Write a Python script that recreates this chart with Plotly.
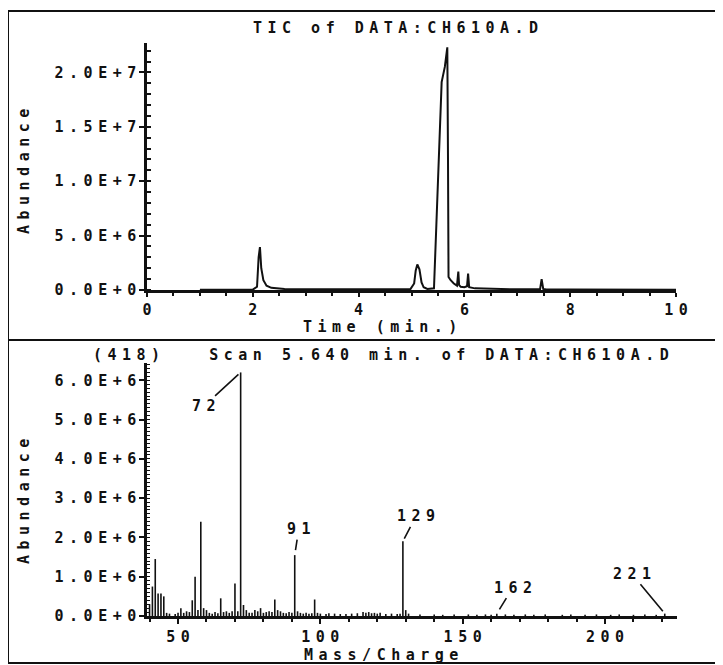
import plotly.graph_objects as go

# ---------------- data ----------------
tic_time = [1.0, 1.5, 2.0, 2.08, 2.11, 2.135, 2.16, 2.2, 2.26, 2.35, 2.6, 3.0, 3.5, 4.0, 4.5,
            4.98, 5.05, 5.08, 5.11, 5.15, 5.19, 5.23, 5.3, 5.425, 5.47, 5.52, 5.57, 5.63, 5.677,
            5.69, 5.70, 5.74, 5.8, 5.86, 5.885, 5.9, 5.93, 6.0, 6.05, 6.07, 6.09, 6.2, 6.6, 7.0,
            7.43, 7.46, 7.49, 7.55, 8.0, 8.5, 9.0, 9.5, 10.0]
tic_abund = [0.02e6, 0.03e6, 0.04e6, 0.3e6, 3.0e6, 3.95e6, 2.0e6, 0.9e6, 0.4e6, 0.2e6, 0.1e6,
             0.06e6, 0.05e6, 0.05e6, 0.06e6,
             0.08e6, 0.6e6, 1.8e6, 2.35e6, 1.9e6, 0.7e6, 0.25e6, 0.1e6, 0.15e6, 6.0e6, 12.5e6,
             19.1e6, 20.5e6, 22.3e6,
             12.0e6, 1.2e6, 0.9e6, 0.6e6, 0.4e6, 1.7e6, 0.45e6, 0.3e6, 0.25e6, 0.35e6, 1.5e6,
             0.25e6, 0.15e6, 0.08e6, 0.06e6,
             0.06e6, 1.0e6, 0.1e6, 0.05e6, 0.05e6, 0.04e6, 0.04e6, 0.03e6, 0.03e6]

ms_mz = [40, 41, 42, 43, 44, 45, 46, 47, 49, 50, 51, 52, 53, 54, 55, 56, 57, 58, 59, 60,
         61, 62, 63, 64, 65, 66, 67, 68, 69, 70, 71, 72, 73, 74, 75, 76, 77, 78, 79, 80,
         81, 82, 83, 84, 85, 86, 87, 88, 89, 90, 91, 92, 93, 94, 95, 96, 97, 98, 99, 100,
         102, 103, 105, 107, 109, 111, 113, 115, 116, 117, 118, 119, 120, 121, 123, 125, 127,
         128, 129, 130, 131, 135, 140, 143, 147, 152, 155, 158, 160, 162, 165, 168, 172, 175,
         179, 185, 188, 193, 197, 202, 205, 210, 214, 218, 221]
ms_abund = [0.3e6, 0.75e6, 1.45e6, 0.57e6, 0.57e6, 0.5e6, 0.08e6, 0.06e6, 0.05e6, 0.08e6,
            0.2e6, 0.08e6, 0.12e6, 0.1e6, 0.4e6, 1.0e6, 0.15e6, 2.4e6, 0.2e6, 0.15e6,
            0.08e6, 0.06e6, 0.1e6, 0.07e6, 0.45e6, 0.1e6, 0.12e6, 0.08e6, 0.12e6, 0.83e6,
            0.12e6, 6.2e6, 0.28e6, 0.15e6, 0.08e6, 0.08e6, 0.15e6, 0.12e6, 0.2e6, 0.08e6,
            0.1e6, 0.12e6, 0.1e6, 0.42e6, 0.15e6, 0.12e6, 0.08e6, 0.07e6, 0.1e6, 0.08e6,
            1.55e6, 0.12e6, 0.08e6, 0.06e6, 0.08e6, 0.06e6, 0.07e6, 0.42e6, 0.08e6, 0.06e6,
            0.05e6, 0.07e6, 0.06e6, 0.05e6, 0.05e6, 0.06e6, 0.07e6, 0.1e6, 0.08e6, 0.1e6,
            0.07e6, 0.08e6, 0.06e6, 0.08e6, 0.05e6, 0.06e6, 0.05e6,
            0.06e6, 1.9e6, 0.15e6, 0.06e6, 0.04e6, 0.04e6, 0.03e6, 0.04e6, 0.04e6, 0.03e6,
            0.04e6, 0.03e6, 0.06e6, 0.04e6, 0.03e6, 0.04e6, 0.03e6,
            0.04e6, 0.03e6, 0.04e6, 0.03e6, 0.04e6, 0.03e6, 0.04e6, 0.03e6, 0.04e6, 0.03e6, 0.06e6]

label_mz = [72, 91, 129, 162, 221]

tic_xticks = [0, 2, 4, 6, 8, 10]
tic_yticks = [0, 5e6, 1e7, 1.5e7, 2e7]
tic_ytext = ["0.0E+0", "5.0E+6", "1.0E+7", "1.5E+7", "2.0E+7"]
ms_xticks = [50, 100, 150, 200]
ms_yticks = [0, 1e6, 2e6, 3e6, 4e6, 5e6, 6e6]
ms_ytext = ["0.0E+0", "1.0E+6", "2.0E+6", "3.0E+6", "4.0E+6", "5.0E+6", "6.0E+6"]

title_top = "TIC of DATA:CH610A.D"
title_bot = "(418)\u00a0\u00a0\u00a0Scan 5.640 min. of DATA:CH610A.D"

# ---------------- style ----------------
OFF = 8                      # page body margin
W, H = 723 - OFF, 665 - OFF
FONT = "DejaVu Sans Mono"
FS = 15
LS = 5.5  # letter spacing px
INK = "#111111"


def sp(t):
    t = str(t)
    if len(t) < 2:
        return f"<b>{t}</b>"
    return f'<b><span style="letter-spacing:{LS}px">{t[:-1]}</span>{t[-1]}</b>'


def px_x(p):
    return (p - OFF) / W


def px_y(p):
    return 1 - (p - OFF) / H


label_offsets = {72: (-37, 34, 3), 91: (4, -26, 5), 129: (13, -25, 3), 162: (16, -26, 5), 221: (-33, -40, 3)}

fig = go.Figure()

fig.add_trace(go.Scatter(x=tic_time, y=tic_abund, mode="lines",
                         line=dict(color=INK, width=2), xaxis="x", yaxis="y",
                         showlegend=False, hoverinfo="skip"))

sx, sy = [], []
for m, a in zip(ms_mz, ms_abund):
    sx += [m, m, None]
    sy += [0, a, None]
fig.add_trace(go.Scatter(x=sx, y=sy, mode="lines", line=dict(color=INK, width=1.6),
                         xaxis="x2", yaxis="y2", showlegend=False, hoverinfo="skip"))

tickfont = dict(family=FONT, size=FS, color=INK)
common = dict(showline=True, linecolor=INK, linewidth=2.5, ticks="outside", tickwidth=2,
              tickcolor=INK, showgrid=False, zeroline=False, tickfont=tickfont,
              automargin=False)

fig.update_layout(
    width=W, height=H,
    margin=dict(l=0, r=0, t=0, b=0, pad=0, autoexpand=False),
    paper_bgcolor="white", plot_bgcolor="white",
    font=dict(family=FONT, size=FS, color=INK),
    xaxis=dict(domain=[px_x(147), px_x(676)], anchor="y", range=[0, 10], tickvals=tic_xticks,
               ticktext=[sp(v) for v in tic_xticks], ticklen=4,
               minor=dict(ticks="outside", ticklen=3, tickwidth=1.5, tickcolor=INK, dtick=0.5),
               **common),
    yaxis=dict(domain=[px_y(290), px_y(43)], anchor="x", range=[0, 2.27e7],
               tickvals=tic_yticks, ticktext=[sp(t) for t in tic_ytext], ticklen=5,
               minor=dict(ticks="inside", ticklen=4, tickwidth=1.5, tickcolor=INK, dtick=1e6),
               **common),
    xaxis2=dict(domain=[px_x(147), px_x(677)], anchor="y2", range=[39.1, 225.3],
                tickvals=ms_xticks, ticktext=[sp(v) for v in ms_xticks], ticklen=5,
                minor=dict(ticks="outside", ticklen=3, tickwidth=1.5, tickcolor=INK, dtick=10),
                **common),
    yaxis2=dict(domain=[px_y(616), px_y(363)], anchor="x2", range=[0, 6.44e6],
                tickvals=ms_yticks, ticktext=[sp(t) for t in ms_ytext], ticklen=5,
                minor=dict(ticks="inside", ticklen=3, tickwidth=1.2, tickcolor=INK, dtick=1e5),
                **common),
)

# frame and divider
fig.add_shape(type="rect", xref="paper", yref="paper", x0=px_x(8), x1=px_x(718),
              y0=px_y(663), y1=px_y(11), line=dict(color=INK, width=2), layer="above")
fig.add_shape(type="line", xref="paper", yref="paper", x0=px_x(8), x1=px_x(718),
              y0=px_y(340), y1=px_y(340), line=dict(color=INK, width=2), layer="above")

ann = []


def txt(x, y, t, angle=0):
    ann.append(dict(x=px_x(x), y=px_y(y), xref="paper", yref="paper", text=sp(t),
                    showarrow=False, textangle=angle, xanchor="center", yanchor="middle",
                    font=dict(family=FONT, size=FS, color=INK)))


txt(395, 28, title_top)
txt(381, 355, title_bot)
txt(380, 327, "Time (min.)")
txt(381, 655, "Mass/Charge")
txt(24, 172, "Abundance", -90)
txt(24, 502, "Abundance", -90)

ms_lookup = dict(zip(ms_mz, ms_abund))
for m in label_mz:
    axp, ayp, so = label_offsets[m]
    ann.append(dict(x=m, y=ms_lookup[m], xref="x2", yref="y2", text=sp(m),
                    showarrow=True, arrowhead=0, arrowwidth=1.6, arrowcolor=INK,
                    ax=axp, ay=ayp, standoff=so,
                    font=dict(family=FONT, size=FS, color=INK)))

fig.update_layout(annotations=ann)
fig.write_html("out.html")
